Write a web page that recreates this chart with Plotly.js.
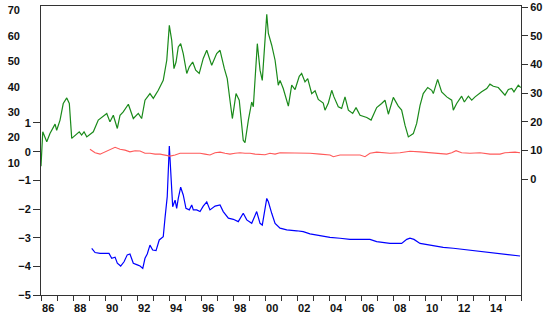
<!DOCTYPE html>
<html>
<head>
<meta charset="utf-8">
<script src="https://cdn.plot.ly/plotly-3.0.1.min.js"></script>
<style>
  html, body { margin: 0; padding: 0; background: #fff; }
  #chart { width: 550px; height: 322px; }
</style>
</head>
<body>
<div id="chart"></div>
<script>
// Green series (upper left scale, 10..70)
const greenYears = [1986.00,1986.11,1986.36,1986.56,1986.88,1986.98,1987.19,1987.39,1987.61,1987.77,
  1987.92,1988.13,1988.39,1988.54,1988.69,1988.86,1989.27,1989.58,1990.11,1990.31,
  1990.52,1990.77,1990.94,1991.14,1991.46,1991.77,1992.08,1992.29,1992.50,1992.81,
  1993.02,1993.33,1993.64,1993.86,1994.02,1994.17,1994.31,1994.44,1994.58,1994.73,
  1994.89,1995.11,1995.27,1995.48,1995.67,1995.89,1996.14,1996.36,1996.67,1996.98,
  1997.19,1997.46,1997.64,1997.81,1997.96,1998.19,1998.39,1998.64,1998.75,1998.96,
  1999.17,1999.27,1999.52,1999.69,1999.83,2000.11,2000.21,2000.42,2000.63,2000.83,
  2000.94,2001.14,2001.46,2001.67,2001.88,2002.14,2002.29,2002.50,2002.67,2002.92,
  2003.13,2003.33,2003.64,2003.75,2003.96,2004.17,2004.31,2004.58,2004.79,2005.00,
  2005.21,2005.48,2005.69,2005.94,2006.36,2006.63,2006.77,2006.98,2007.29,2007.50,
  2007.71,2008.02,2008.33,2008.54,2008.75,2008.96,2009.27,2009.48,2009.69,2009.89,
  2010.17,2010.42,2010.52,2010.79,2011.04,2011.36,2011.67,2011.77,2011.98,2012.29,
  2012.46,2012.71,2012.92,2013.13,2013.54,2013.86,2014.06,2014.27,2014.58,2015.00,
  2015.21,2015.42,2015.56,2015.83,2015.98];
const greenValues = [8.8,22.3,18.4,21.6,25.3,22.9,26.9,33.4,35.6,33.4,
  19.7,21.0,22.3,21.0,22.3,20.3,22.3,26.9,29.5,26.2,
  28.8,23.6,28.8,30.1,33.1,27.5,29.5,27.5,34.7,37.3,
  35.4,38.6,42.5,50.4,64.1,58.2,47.1,49.7,55.6,56.9,
  53.0,45.2,47.8,49.7,46.5,45.2,51.1,54.3,48.4,53.0,
  54.3,47.1,43.2,34.7,27.5,37.3,34.7,19.0,18.0,26.9,
  34.0,32.1,56.9,46.5,42.5,68.4,60.9,56.3,50.4,40.6,
  42.5,39.3,32.4,40.6,38.9,44.1,45.2,41.9,43.2,37.3,
  38.4,35.0,33.6,30.8,33.6,38.6,36.0,32.1,31.5,36.0,
  30.8,29.5,31.8,28.8,27.9,26.9,28.8,31.8,33.4,34.7,
  29.2,35.8,32.4,30.8,24.9,20.3,21.6,25.6,32.7,37.3,
  39.7,38.6,37.3,42.9,38.0,36.0,34.7,30.8,33.4,36.3,
  34.0,36.3,34.7,36.0,38.0,39.3,41.0,40.2,39.7,36.7,
  38.9,39.3,38.0,40.6,39.7];

// Red series (right scale, 0..60)
const redYears = [1989.06,1989.38,1989.69,1990.00,1990.31,1990.63,1990.94,1991.25,1991.56,1991.88,
  1992.19,1992.50,1992.81,1993.13,1993.44,1993.75,1994.06,1994.38,1994.69,1995.00,
  1995.31,1995.63,1995.94,1996.25,1996.56,1996.88,1997.19,1997.50,1997.81,1998.13,
  1998.44,1998.75,1999.06,1999.38,1999.69,2000.00,2000.31,2000.63,2000.94,2001.56,
  2002.19,2002.81,2003.44,2004.06,2004.27,2004.69,2005.31,2005.94,2006.25,2006.56,
  2006.98,2007.39,2007.81,2008.44,2009.06,2009.69,2010.31,2010.94,2011.36,2011.67,
  2011.94,2012.29,2012.81,2013.44,2014.06,2014.69,2015.00,2015.63,2015.94];
const redValues = [10.4,9.2,8.7,9.5,10.1,11.1,10.4,10.1,9.5,9.9,
  9.8,9.0,9.0,8.7,8.7,8.4,8.0,8.4,9.0,9.0,
  9.0,9.2,9.0,8.7,8.4,9.2,9.4,9.0,8.7,9.0,
  9.2,9.0,9.0,8.7,8.7,8.5,9.0,8.7,9.2,9.2,
  9.0,9.0,8.7,8.4,7.8,8.4,8.4,8.4,7.8,9.0,
  9.4,9.2,9.0,9.2,9.7,9.5,9.2,9.0,8.7,9.2,
  9.9,9.2,9.0,9.2,8.7,8.7,9.2,9.4,9.2];

// Blue series (lower left scale, -5..1)
const blueYears = [1989.17,1989.38,1989.69,1990.00,1990.25,1990.42,1990.63,1990.77,1990.98,1991.19,
  1991.39,1991.56,1991.77,1992.02,1992.19,1992.36,1992.50,1992.64,1992.81,1992.98,
  1993.19,1993.39,1993.64,1993.75,1993.89,1994.02,1994.11,1994.23,1994.38,1994.48,
  1994.58,1994.73,1994.89,1995.06,1995.27,1995.42,1995.52,1995.73,1995.94,1996.14,
  1996.36,1996.56,1996.88,1997.19,1997.39,1997.71,1998.02,1998.33,1998.64,1998.86,
  1999.17,1999.48,1999.69,1999.83,2000.11,2000.21,2000.42,2000.63,2000.94,2001.36,
  2001.98,2002.39,2002.81,2003.44,2004.06,2004.69,2005.31,2005.94,2006.56,2006.98,
  2007.50,2007.81,2008.54,2008.86,2009.06,2009.31,2009.69,2010.31,2010.83,2011.14,
  2011.77,2012.39,2013.02,2013.64,2014.27,2014.89,2015.52,2015.94];
const blueValues = [-3.37,-3.52,-3.55,-3.55,-3.55,-3.72,-3.68,-3.89,-3.99,-3.84,
  -3.60,-3.57,-3.89,-3.95,-3.99,-4.07,-3.72,-3.57,-3.26,-3.43,
  -3.45,-3.08,-2.97,-2.32,-1.57,0.20,-0.64,-1.92,-1.69,-1.98,
  -1.63,-1.24,-1.51,-1.98,-2.03,-1.86,-2.03,-2.03,-2.09,-1.90,
  -1.75,-2.03,-1.90,-1.86,-2.09,-2.32,-2.36,-2.44,-2.15,-2.38,
  -2.50,-2.09,-2.50,-2.56,-1.63,-1.75,-2.15,-2.50,-2.67,-2.73,
  -2.76,-2.79,-2.87,-2.94,-2.99,-3.02,-3.06,-3.06,-3.06,-3.14,
  -3.18,-3.20,-3.20,-3.06,-3.02,-3.06,-3.20,-3.26,-3.29,-3.34,
  -3.37,-3.41,-3.45,-3.49,-3.52,-3.57,-3.60,-3.64];

// Axis ticks and labels
const yearTicks = [];
for (let y = 1986; y <= 2016; y++) yearTicks.push(y);
const labelYears = [1986,1988,1990,1992,1994,1996,1998,2000,2002,2004,2006,2008,2010,2012,2014];
const labelText = ['86','88','90','92','94','96','98','00','02','04','06','08','10','12','14'];
const labelPos = labelYears.map(y => y + 0.45);
const greenTicks = [10,20,30,40,50,60,70];
const blueTicks = [-5,-4,-3,-2,-1,0,1];
const redTicks = [0,10,20,30,40,50,60];

const W = 550;
const axisColor = '#333333';
const tickFont = { family: 'Liberation Sans, Arial, sans-serif', size: 11, color: '#111', weight: 700 };

const traces = [
  { x: greenYears, y: greenValues, yaxis: 'y2', type: 'scatter', mode: 'lines',
    line: { color: '#1a8a1a', width: 1.2 }, hoverinfo: 'skip' },
  { x: redYears, y: redValues, yaxis: 'y3', type: 'scatter', mode: 'lines',
    line: { color: '#ff5a5a', width: 1.1 }, hoverinfo: 'skip' },
  { x: blueYears, y: blueValues, yaxis: 'y', type: 'scatter', mode: 'lines',
    line: { color: '#0000ff', width: 1.2 }, hoverinfo: 'skip' },
  // carrier for the year-label axis
  { x: [labelPos[0]], y: [null], xaxis: 'x2', yaxis: 'y', type: 'scatter', mode: 'lines',
    hoverinfo: 'skip' }
];

const layout = {
  width: 550, height: 322,
  margin: { l: 0, r: 0, t: 6, b: 27 },
  paper_bgcolor: '#ffffff', plot_bgcolor: '#ffffff',
  showlegend: false,
  xaxis: {
    domain: [41 / W, 521 / W], range: [1986, 2016],
    tickmode: 'array', tickvals: yearTicks, showticklabels: false,
    ticks: 'outside', ticklen: 5, tickcolor: axisColor, tickwidth: 1,
    showline: true, linecolor: axisColor, linewidth: 1, mirror: true,
    showgrid: false, zeroline: false, fixedrange: true
  },
  xaxis2: {
    overlaying: 'x', anchor: 'y', side: 'bottom', range: [1986, 2016],
    domain: [41 / W, 521 / W],
    tickmode: 'array', tickvals: labelPos, ticktext: labelText,
    ticks: 'outside', ticklen: 3, tickcolor: 'rgba(0,0,0,0)',
    showline: false, showgrid: false, zeroline: false, tickfont: tickFont
  },
  yaxis: {
    range: [-5, 5.081], tickmode: 'array', tickvals: blueTicks,
    ticks: 'outside', ticklen: 7, tickcolor: axisColor, tickwidth: 1,
    showline: true, linecolor: axisColor, linewidth: 1,
    showgrid: false, zeroline: false, tickfont: tickFont
  },
  yaxis2: {
    overlaying: 'y', anchor: 'free', position: 20 / W, side: 'left',
    range: [-41.8, 71.7], tickmode: 'array', tickvals: greenTicks,
    ticks: '', showline: false, showgrid: false, zeroline: false, tickfont: tickFont
  },
  yaxis3: {
    overlaying: 'y', anchor: 'x', side: 'right',
    range: [-40.5, 60.45], tickmode: 'array', tickvals: redTicks,
    ticks: 'outside', ticklen: 6, tickcolor: axisColor, tickwidth: 1,
    showline: true, linecolor: axisColor, linewidth: 1,
    showgrid: false, zeroline: false, tickfont: tickFont
  }
};

Plotly.newPlot('chart', traces, layout, { staticPlot: true, displayModeBar: false });
</script>
</body>
</html>
